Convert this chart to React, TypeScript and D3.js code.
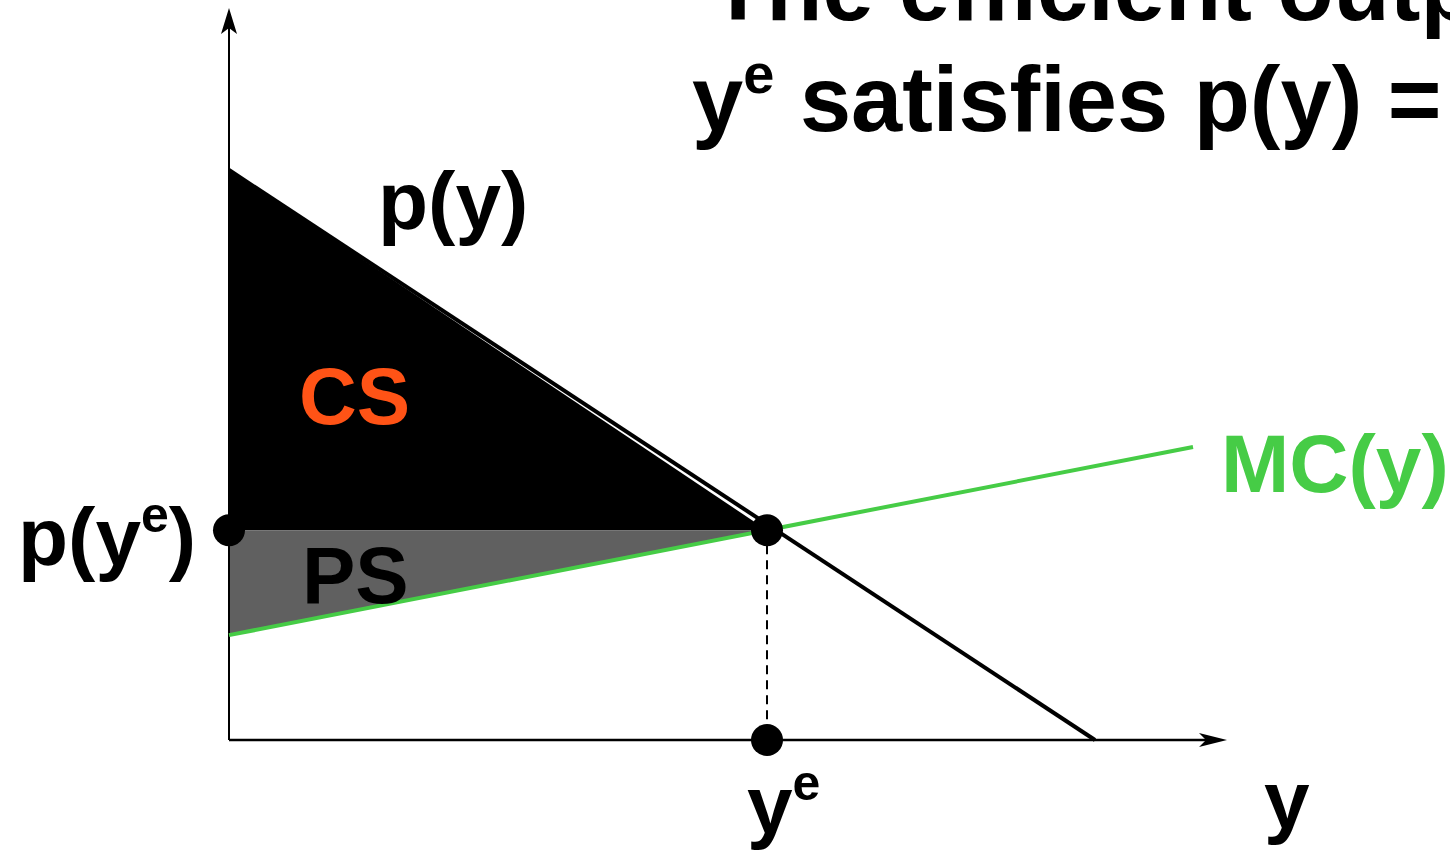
import React from "react";
import * as d3 from "d3";

// Data (model units)
const demandPoints = [
  { q: 0, p: 10 },
  { q: 8.66, p: 0 },
];
const mcPoints = [
  { q: 0, p: 1.84 },
  { q: 9.64, p: 5.14 },
];
const equilibrium = { q: 5.38, p: 3.68 };
const titleLines = ["The efficient output level", "satisfies p(y) = MC(y)."];

const W = 1450;
const H = 854;
const FONT = "'Liberation Sans', Arial, sans-serif";
const GREEN = "#46cc46";
const ORANGE = "#ff5316";

export default function App() {
  const x = d3.scaleLinear().domain([0, 10]).range([229, 1229]);
  const y = d3.scaleLinear().domain([0, 10]).range([740, 170]);
  const line = d3
    .line<{ q: number; p: number }>()
    .x((d) => x(d.q))
    .y((d) => y(d.p));

  const cs = [
    { q: 0, p: demandPoints[0].p },
    { q: 0, p: equilibrium.p },
    { q: equilibrium.q, p: equilibrium.p },
  ];
  const ps = [
    { q: 0, p: equilibrium.p },
    { q: equilibrium.q, p: equilibrium.p },
    { q: 0, p: mcPoints[0].p },
  ];
  const area = (pts: { q: number; p: number }[]) => line(pts) + "Z";

  const ox = x(0);
  const oy = y(0);
  const yTop = 8;
  const xRight = 1227;

  // stealth-style arrowheads
  const upArrow = `M${ox},${yTop} L${ox - 8},${yTop + 26} L${ox},${yTop + 20} L${ox + 8},${yTop + 26} Z`;
  const rightArrow = `M${xRight},${oy} L${xRight - 28},${oy - 7} L${xRight - 21},${oy} L${xRight - 28},${oy + 7} Z`;

  return (
    <svg
      width={W}
      height={H}
      style={{ position: "absolute", left: 0, top: 0, background: "#fff" }}
      fontFamily={FONT}
      fontWeight="bold"
    >
      <rect x={0} y={0} width={W} height={H} fill="#fff" />
      {/* surplus areas */}
      <path d={area(cs)} fill="#000" />
      <path d={area(ps)} fill="#606060" />

      {/* axes */}
      <line x1={ox} y1={oy} x2={ox} y2={yTop + 15} stroke="#000" strokeWidth={2} />
      <path d={upArrow} fill="#000" />
      <line x1={ox} y1={oy} x2={xRight - 15} y2={oy} stroke="#000" strokeWidth={2.5} />
      <path d={rightArrow} fill="#000" />

      {/* curves */}
      <path d={line(demandPoints) || ""} stroke="#000" strokeWidth={4} fill="none" />
      <path d={line(mcPoints) || ""} stroke={GREEN} strokeWidth={4} fill="none" />

      {/* dashed drop line */}
      <line
        x1={x(equilibrium.q)}
        y1={y(equilibrium.p)}
        x2={x(equilibrium.q)}
        y2={oy}
        stroke="#000"
        strokeWidth={2}
        strokeDasharray="9,6"
      />

      {/* dots */}
      <circle cx={ox} cy={y(equilibrium.p)} r={16} fill="#000" />
      <circle cx={x(equilibrium.q)} cy={y(equilibrium.p)} r={16} fill="#000" />
      <circle cx={x(equilibrium.q)} cy={oy} r={16} fill="#000" />

      {/* title */}
      <text x={710} y={20} fontSize={92} fill="#000">
        {titleLines[0]}
      </text>
      <text x={692} y={131} fontSize={92} fill="#000">
        y<tspan fontSize={56} dy={-38}>e</tspan>
        <tspan dy={38}> {titleLines[1]}</tspan>
      </text>

      {/* labels */}
      <text x={378} y={229} fontSize={82} fill="#000">
        p(y)
      </text>
      <text x={299} y={424} fontSize={80} fill={ORANGE}>
        CS
      </text>
      <text x={302} y={603} fontSize={80} fill="#000">
        PS
      </text>
      <text x={1221} y={492} fontSize={82} fill={GREEN}>
        MC(y)
      </text>
      <text x={18} y={565} fontSize={82} fill="#000">
        p(y<tspan fontSize={50} dy={-33}>e</tspan>
        <tspan dy={33}>)</tspan>
      </text>
      <text x={747} y={833} fontSize={82} fill="#000">
        y<tspan fontSize={50} dy={-33}>e</tspan>
      </text>
      <text x={1264} y={828} fontSize={82} fill="#000">
        y
      </text>
    </svg>
  );
}
